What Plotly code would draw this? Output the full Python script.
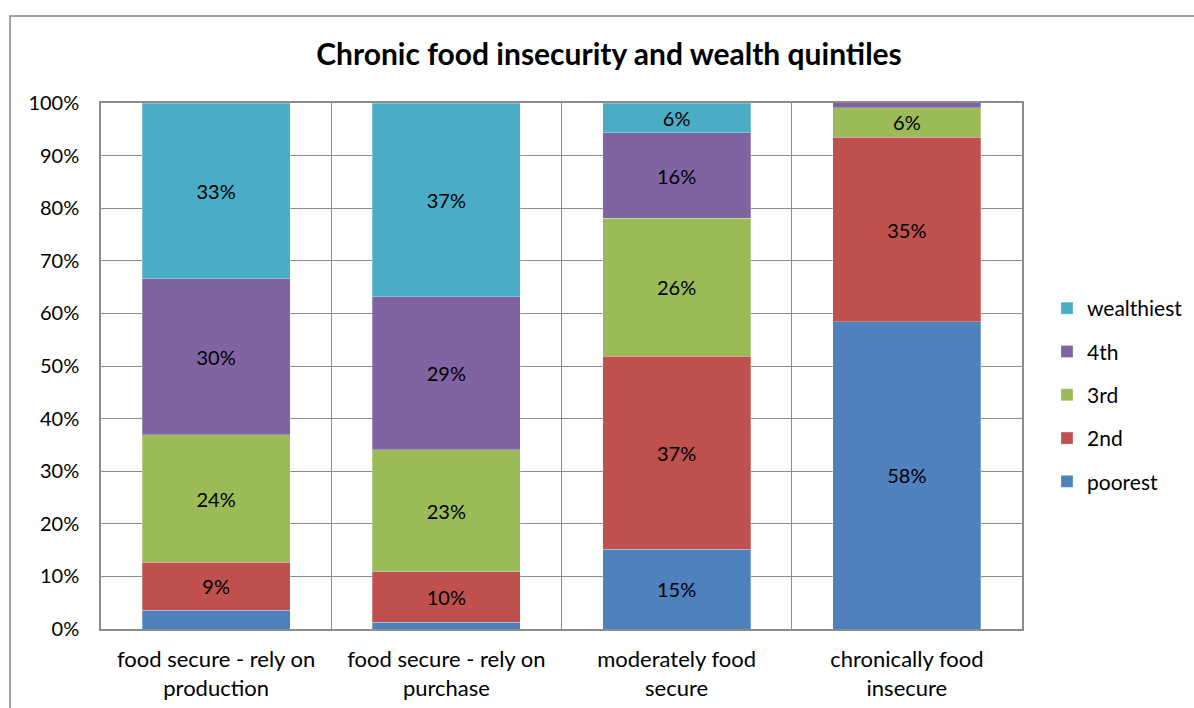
import plotly.graph_objects as go

# Share of households in each wealth quintile, by food-security group (%)
categories = [
    "food secure - rely on<br>production",
    "food secure - rely on<br>purchase",
    "moderately food<br>secure",
    "chronically food<br>insecure",
]
quintiles = ["poorest", "2nd", "3rd", "4th", "wealthiest"]
poorest = [3.6, 1.3, 15.2, 58.4]
second = [9.1, 9.6, 36.7, 35.1]
third = [24.2, 23.2, 26.2, 5.6]
fourth = [29.7, 29.1, 16.2, 1.2]
wealthiest = [33.4, 36.8, 5.7, 0.0]
series_values = [poorest, second, third, fourth, wealthiest]
colors = ["#4F81BD", "#C0504D", "#9BBB59", "#8064A2", "#4BACC6"]
label_min = 5.0  # segments thinner than this carry no label

FONT = "Lato"

fig = go.Figure()
n = len(quintiles)
for i, (name, vals, col) in enumerate(zip(quintiles, series_values, colors)):
    labels = [f"{v:.0f}%" if v >= label_min else "" for v in vals]
    fig.add_trace(go.Bar(
        name=name,
        x=categories,
        y=[v / 100 for v in vals],
        marker=dict(color=col, line=dict(width=0.6, color="rgba(255,255,255,0.45)")),
        text=labels,
        textposition="inside",
        insidetextanchor="middle",
        textangle=0,
        constraintext="none",
        textfont=dict(family=FONT, size=20, color="black"),
        legendgroup=name,
        legendrank=n - i,  # wealthiest on top of the legend
        hoverinfo="skip",
    ))

# plot-area frame in pixels
W, H = 1194, 708
L, R, T, B = 101, 1022, 103, 629
pw, ph = R - L, B - T

fig.update_layout(
    width=W, height=H,
    barmode="stack",
    bargap=0.357,
    margin=dict(l=L, r=W - R, t=T, b=H - B, pad=0, autoexpand=False),
    paper_bgcolor="white",
    plot_bgcolor="white",
    font=dict(family=FONT, size=20, color="black"),
    title=dict(
        text="<b>Chronic food insecurity and wealth quintiles</b>",
        font=dict(family=FONT, size=30, color="black"),
        x=609 / W, xanchor="center",
        y=1 - 54 / H, yanchor="middle",
    ),
    legend=dict(
        traceorder="grouped",
        tracegroupgap=13,
        x=(1047 - L) / pw, xanchor="left",
        y=(B - 288) / ph, yanchor="top",
        font=dict(family=FONT, size=21, color="black"),
        itemwidth=30,
        bgcolor="rgba(0,0,0,0)",
    ),
    showlegend=True,
    shapes=[
        # outer chart border
        dict(type="rect", xref="paper", yref="paper",
             x0=(10 - L) / pw, x1=(1240 - L) / pw,
             y0=(B - 760) / ph, y1=(B - 16) / ph,
             line=dict(color="#868686", width=1.5), fillcolor="rgba(0,0,0,0)",
             layer="below"),
    ],
)

fig.update_xaxes(
    type="category",
    tickson="boundaries",
    automargin=False,
    showgrid=True, gridcolor="#8C8C8C", gridwidth=1.3,
    showline=True, linecolor="#8C8C8C", linewidth=1.5, mirror=True,
    ticks="",
    ticklabelstandoff=10,
    tickfont=dict(family=FONT, size=22, color="black"),
)
fig.update_yaxes(
    range=[0, 1],
    dtick=0.1,
    tickformat=".0%",
    automargin=False,
    showgrid=True, gridcolor="#8C8C8C", gridwidth=1.3,
    showline=True, linecolor="#8C8C8C", linewidth=1.5, mirror=True,
    zeroline=False,
    ticks="",
    ticklabelstandoff=16,
    tickfont=dict(family=FONT, size=20, color="black"),
)

fig.write_html("out.html")
